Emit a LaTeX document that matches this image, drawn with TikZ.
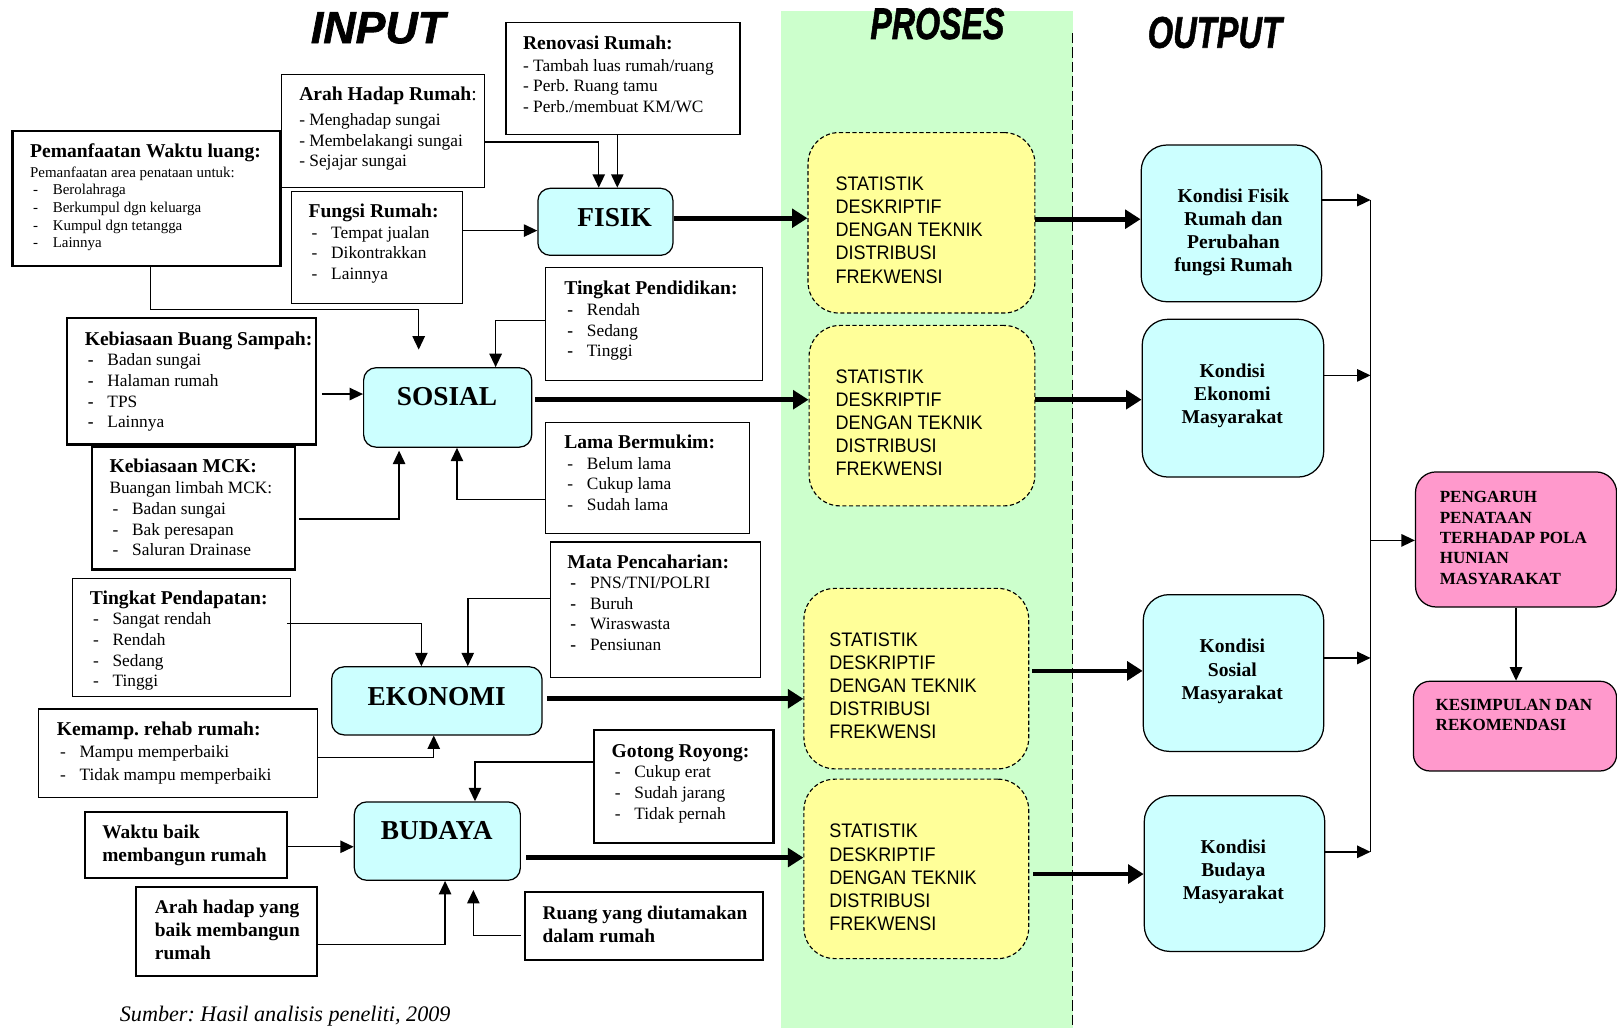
\documentclass[tikz,border=0pt]{standalone}
\usepackage{fontspec}
\setmainfont{Liberation Serif}
\newfontfamily\statfont{Liberation Sans}[FakeStretch=0.92]
\newfontfamily\ttlfont{Liberation Sans}[BoldItalicFeatures={FakeBold=1.5}]
\usetikzlibrary{arrows.meta}

\definecolor{procfill}{HTML}{CCFFFF}
\definecolor{statfill}{HTML}{FFFF99}
\definecolor{endfill}{HTML}{FF99CC}
\definecolor{bandfill}{HTML}{CCFFCC}

\newcommand{\boxhead}[1]{{\fontsize{19}{20}\selectfont\bfseries #1}}
\newcommand{\dashitem}[1]{\hspace*{3pt}\makebox[19pt][l]{-}#1}
\newcommand{\bolditem}[1]{\hspace*{3pt}\makebox[19pt][l]{\bfseries -}#1}
\newcommand{\ttl}[1]{\resizebox{130pt}{30pt}{\ttlfont\bfseries\itshape #1}}

\tikzstyle {thinbox} = [draw, line width=1.2pt, anchor=north west, inner sep=0pt]
\tikzstyle {thickbox} = [draw, line width=2.2pt, anchor=north west, inner sep=0pt]
\tikzstyle {procbox} = [draw, line width=1.2pt, fill=procfill, rounded corners=12pt, anchor=north west]
\tikzstyle {statbox} = [draw, dash pattern=on 4pt off 2.5pt, line width=1.1pt, fill=statfill, rounded corners=30pt, anchor=north west]
\tikzstyle {outbox} = [draw, line width=1.2pt, fill=procfill, rounded corners=25pt, anchor=north west]
\tikzstyle {endbox} = [draw, line width=1.2pt, fill=endfill, rounded corners=20pt, anchor=north west]
\tikzstyle {txt} = [anchor=north west, inner sep=0pt, align=left, font=\fontsize{16.8}{20}\selectfont]
\tikzstyle {boldtxt} = [anchor=north west, inner sep=0pt, align=left, font=\fontsize{18.8}{22.5}\selectfont\bfseries]
\tikzstyle {proctxt} = [inner sep=0pt, font=\fontsize{26.5}{30}\selectfont\bfseries]
\tikzstyle {stattxt} = [anchor=north west, inner sep=0pt, align=left, font=\statfont\fontsize{19}{22.5}\selectfont]
\tikzstyle {outtxt} = [inner sep=0pt, align=center, font=\fontsize{19}{22.5}\selectfont\bfseries]
\tikzstyle {endtxt} = [anchor=north west, inner sep=0pt, align=left, font=\fontsize{16.5}{19.75}\selectfont\bfseries]
\tikzstyle {arr} = [line width=1.4pt, -{Triangle[length=13pt,width=12pt]}]
\tikzstyle {bigarr} = [line width=4.5pt, -{Triangle[length=15pt,width=18pt]}]

\begin{document}
\frenchspacing
\begin{tikzpicture}[x=1pt, y=-1pt]
  \fill[white] (0,0) rectangle (1568,997);
  \useasboundingbox (0,0) rectangle (1568,997);

  % proses band
  \fill[bandfill] (757,11) rectangle (1040,997);
  \draw[line width=1.5pt, dash pattern=on 10pt off 4pt] (1040,32) -- (1040,997);

  \node (input) at (366.5,27) {\ttl{INPUT}};
  \node (proses) at (909,23) {\ttl{PROSES}};
  \node (output) at (1178,31.5) {\ttl{OUTPUT}};

  % input boxes
  \node[thinbox, minimum width=227pt, minimum height=109pt] (renov) at (490,21) {};
  \node[txt] (renovt) at (507,34.5) {\boxhead{Renovasi Rumah:}\\[1pt]- Tambah luas rumah/ruang\\- Perb. Ruang tamu\\- Perb./membuat KM/WC};

  \node[thinbox, minimum width=197pt, minimum height=109pt] (arah) at (272,72) {};
  \node[txt] (araht) at (290,84.5) {\boxhead{Arah Hadap Rumah}{\fontsize{19}{20}\selectfont:}\\[4pt]- Menghadap sungai\\- Membelakangi sungai\\- Sejajar sungai};

  \node[thickbox, minimum width=260pt, minimum height=131pt] (manfaat) at (11,126) {};
  \node[txt, font=\fontsize{14.5}{17}\selectfont] (manfaatt) at (29,139.5) {\boxhead{Pemanfaatan Waktu luang:}\\[2pt]Pemanfaatan area penataan untuk:\\\dashitem{Berolahraga}\\\dashitem{Berkumpul dgn keluarga}\\\dashitem{Kumpul dgn tetangga}\\\dashitem{Lainnya}};

  \node[thinbox, minimum width=166pt, minimum height=109pt] (fungsi) at (282,185) {};
  \node[txt] (fungsit) at (299,197.5) {\boxhead{Fungsi Rumah:}\\\dashitem{Tempat jualan}\\\dashitem{Dikontrakkan}\\\dashitem{Lainnya}};

  \node[thinbox, minimum width=211pt, minimum height=109pt] (didik) at (528,259) {};
  \node[txt] (didikt) at (547,272.5) {\boxhead{Tingkat Pendidikan:}\\\bolditem{Rendah}\\\bolditem{Sedang}\\\bolditem{Tinggi}};

  \node[thickbox, minimum width=241pt, minimum height=123pt] (sampah) at (64,307) {};
  \node[txt] (sampaht) at (82,321.5) {\boxhead{Kebiasaan Buang Sampah:}\\\bolditem{Badan sungai}\\\bolditem{Halaman rumah}\\\bolditem{TPS}\\\bolditem{Lainnya}};

  \node[thinbox, minimum width=198pt, minimum height=108pt] (lama) at (528,409) {};
  \node[txt] (lamat) at (547,421.5) {\boxhead{Lama Bermukim:}\\\dashitem{Belum lama}\\\dashitem{Cukup lama}\\\dashitem{Sudah lama}};

  \node[thickbox, minimum width=197pt, minimum height=119pt] (mck) at (88,432) {};
  \node[txt] (mckt) at (106,444.5) {\boxhead{Kebiasaan MCK:}\\[1pt]Buangan limbah MCK:\\\dashitem{Badan sungai}\\\dashitem{Bak peresapan}\\\dashitem{Saluran Drainase}};

  \node[thinbox, minimum width=204pt, minimum height=131pt] (mata) at (533,525) {};
  \node[txt] (matat) at (550,537.5) {\boxhead{Mata Pencaharian:}\\\bolditem{PNS/TNI/POLRI}\\\bolditem{Buruh}\\\bolditem{Wiraswasta}\\\bolditem{Pensiunan}};

  \node[thinbox, minimum width=211pt, minimum height=115pt] (dapat) at (70,560) {};
  \node[txt] (dapatt) at (87,572.5) {\boxhead{Tingkat Pendapatan:}\\\dashitem{Sangat rendah}\\\dashitem{Rendah}\\\dashitem{Sedang}\\\dashitem{Tinggi}};

  \node[thinbox, minimum width=270pt, minimum height=86pt] (rehab) at (37,687) {};
  \node[txt, font=\fontsize{16.8}{22}\selectfont] (rehabt) at (55,699.5) {\boxhead{Kemamp. rehab rumah:}\\\dashitem{Mampu memperbaiki}\\\dashitem{Tidak mampu memperbaiki}};

  \node[thickbox, minimum width=174pt, minimum height=109pt] (gotong) at (575,707) {};
  \node[txt] (gotongt) at (593,721.5) {\boxhead{Gotong Royong:}\\\dashitem{Cukup erat}\\\dashitem{Sudah jarang}\\\dashitem{Tidak pernah}};

  \node[thickbox, minimum width=196pt, minimum height=64pt] (waktu) at (81,786) {};
  \node[boldtxt] (waktut) at (99,799.5) {Waktu baik\\membangun rumah};

  \node[thickbox, minimum width=175pt, minimum height=86pt] (arahbaik) at (131,859) {};
  \node[boldtxt] (arahbaikt) at (150,872.5) {Arah hadap yang\\baik membangun\\rumah};

  \node[thickbox, minimum width=231pt, minimum height=66pt] (ruang) at (508,864) {};
  \node[boldtxt] (ruangt) at (526,878.5) {Ruang yang diutamakan\\dalam rumah};

  % aspek
  \node[procbox, minimum width=131pt, minimum height=65pt] (fisik) at (521,182) {};
  \node[proctxt] (fisikt) at (596,211) {FISIK};
  \node[procbox, minimum width=163pt, minimum height=77pt] (sosial) at (352,356) {};
  \node[proctxt] (sosialt) at (433.5,385) {SOSIAL};
  \node[procbox, minimum width=204pt, minimum height=66pt] (ekonomi) at (321,646) {};
  \node[proctxt] (ekonomit) at (423.5,675) {EKONOMI};
  \node[procbox, minimum width=161pt, minimum height=76pt] (budaya) at (343,777) {};
  \node[proctxt] (budayat) at (423.5,805) {BUDAYA};

  % proses
  \node[statbox, minimum width=220pt, minimum height=175pt] (stat1) at (783,128) {};
  \node[stattxt] (stat1t) at (810,171) {STATISTIK\\DESKRIPTIF\\DENGAN TEKNIK\\DISTRIBUSI\\FREKWENSI};
  \node[statbox, minimum width=219pt, minimum height=175pt] (stat2) at (784,315) {};
  \node[stattxt] (stat2t) at (810,358) {STATISTIK\\DESKRIPTIF\\DENGAN TEKNIK\\DISTRIBUSI\\FREKWENSI};
  \node[statbox, minimum width=218pt, minimum height=175pt] (stat3) at (779,570) {};
  \node[stattxt] (stat3t) at (804,613) {STATISTIK\\DESKRIPTIF\\DENGAN TEKNIK\\DISTRIBUSI\\FREKWENSI};
  \node[statbox, minimum width=218pt, minimum height=174pt] (stat4) at (779,755) {};
  \node[stattxt] (stat4t) at (804,799) {STATISTIK\\DESKRIPTIF\\DENGAN TEKNIK\\DISTRIBUSI\\FREKWENSI};

  % output
  \node[outbox, minimum width=175pt, minimum height=152pt] (out1) at (1106,140) {};
  \node[outtxt] (out1t) at (1196,225.5) {Kondisi Fisik\\Rumah dan\\Perubahan\\fungsi Rumah};
  \node[outbox, minimum width=176pt, minimum height=153pt] (out2) at (1107,309) {};
  \node[outtxt] (out2t) at (1195,384) {Kondisi\\Ekonomi\\Masyarakat};
  \node[outbox, minimum width=175pt, minimum height=152pt] (out3) at (1108,576) {};
  \node[outtxt] (out3t) at (1195,651) {Kondisi\\Sosial\\Masyarakat};
  \node[outbox, minimum width=175pt, minimum height=151pt] (out4) at (1109,771) {};
  \node[outtxt] (out4t) at (1196,845.5) {Kondisi\\Budaya\\Masyarakat};

  \node[endbox, minimum width=195pt, minimum height=131pt] (peng) at (1372,457) {};
  \node[endtxt] (pengt) at (1396,476.5) {PENGARUH\\PENATAAN\\TERHADAP POLA\\HUNIAN\\MASYARAKAT};
  \node[endbox, rounded corners=16pt, minimum width=197pt, minimum height=87pt] (kesim) at (1370,660) {};
  \node[endtxt] (kesimt) at (1392,677.5) {KESIMPULAN DAN\\REKOMENDASI};

  \node[anchor=base west, inner sep=0pt, font=\fontsize{21.5}{24}\selectfont\itshape] (sumber) at (116,991) {Sumber: Hasil analisis peneliti, 2009};

  % free ends
  \coordinate (sosialtop) at (406,339);
  \coordinate (sosialbot) at (387,437);
  \coordinate (budayabot) at (459,863);
  \coordinate (bus1) at (1329,194);
  \coordinate (bus2) at (1329,364);
  \coordinate (busmid) at (1329,524);
  \coordinate (bus3) at (1329,638);
  \coordinate (bus4) at (1329,826);

  % connectors to fisik
  \draw[arr] ([yshift=-10.5pt]arah.east) -| ([xshift=-6.5pt]fisik.north);
  \draw[arr] ([xshift=-5.5pt]renov.south) -- ([xshift=-5.5pt]renov.south |- fisik.north);
  \draw[arr] ([yshift=16.5pt]fungsi.east) -- ([yshift=16.5pt]fungsi.east -| fisik.west);
  % connectors to sosial
  \draw[arr] ([xshift=4pt]manfaat.south) -- ++(0pt,-41pt) -| (sosialtop);
  \draw[arr] ([yshift=3.5pt]didik.west) -| ([xshift=46.5pt]sosial.north);
  \draw[arr] ([xshift=5pt,yshift=-12.5pt]sampah.east) -- ([yshift=-12.5pt]sampah.east -| sosial.west);
  \draw[arr] ([xshift=3pt,yshift=-10.5pt]mck.east) -| (sosialbot);
  \draw[arr] ([yshift=-21pt]lama.west) -| ([xshift=9pt]sosial.south);
  % connectors to ekonomi
  \draw[arr] ([xshift=-4pt,yshift=13.5pt]dapat.east) -| ([xshift=-15pt]ekonomi.north);
  \draw[arr] ([yshift=10.5pt]mata.west) -| ([xshift=30pt]ekonomi.north);
  \draw[arr] ([yshift=-4pt]rehab.east) -| ([xshift=-3pt]ekonomi.south);
  % connectors to budaya
  \draw[arr] ([yshift=23.5pt]gotong.west) -| ([xshift=36.5pt]budaya.north);
  \draw[arr] ([yshift=-2pt]waktu.east) -- ([yshift=-2pt]waktu.east -| budaya.west);
  \draw[arr] ([yshift=-13pt]arahbaik.east) -| ([xshift=7.5pt]budaya.south);
  \draw[arr] ([xshift=-3pt,yshift=-9pt]ruang.west) -| (budayabot);

  % main flow
  \draw[bigarr] ([yshift=3.5pt]fisik.east) -- ([yshift=3.5pt]fisik.east -| stat1.west);
  \draw[bigarr] ([xshift=3pt,yshift=7.5pt]sosial.east) -- ([yshift=7.5pt]sosial.east -| stat2.west);
  \draw[bigarr] ([xshift=4pt,yshift=2pt]ekonomi.east) -- ([yshift=2pt]ekonomi.east -| stat3.west);
  \draw[bigarr] ([xshift=5pt,yshift=-16pt]budaya.east) -- ([yshift=-16pt]budaya.east -| stat4.west);
  \draw[bigarr] ([yshift=3.5pt]stat1.east) -- ([yshift=3.5pt]stat1.east -| out1.west);
  \draw[bigarr] ([yshift=15.5pt]stat2.east) -- ([yshift=15.5pt]stat2.east -| out2.west);
  \draw[bigarr] ([xshift=3pt,yshift=7.5pt]stat3.east) -- ([yshift=7.5pt]stat3.east -| out3.west);
  \draw[bigarr] ([xshift=4pt,yshift=-5pt]stat4.east) -- ([yshift=-5pt]stat4.east -| out4.west);

  % output bus
  \draw[line width=1.1pt] (bus1) -- (bus4);
  \draw[arr] (out1.east |- bus1) -- (bus1);
  \draw[arr] (out2.east |- bus2) -- (bus2);
  \draw[arr] (out3.east |- bus3) -- (bus3);
  \draw[arr] (out4.east |- bus4) -- (bus4);
  \draw[arr] (busmid) -- (busmid -| peng.west);
  \draw[arr] (peng.south) -- (peng.south |- kesim.north);
\end{tikzpicture}
\end{document}
